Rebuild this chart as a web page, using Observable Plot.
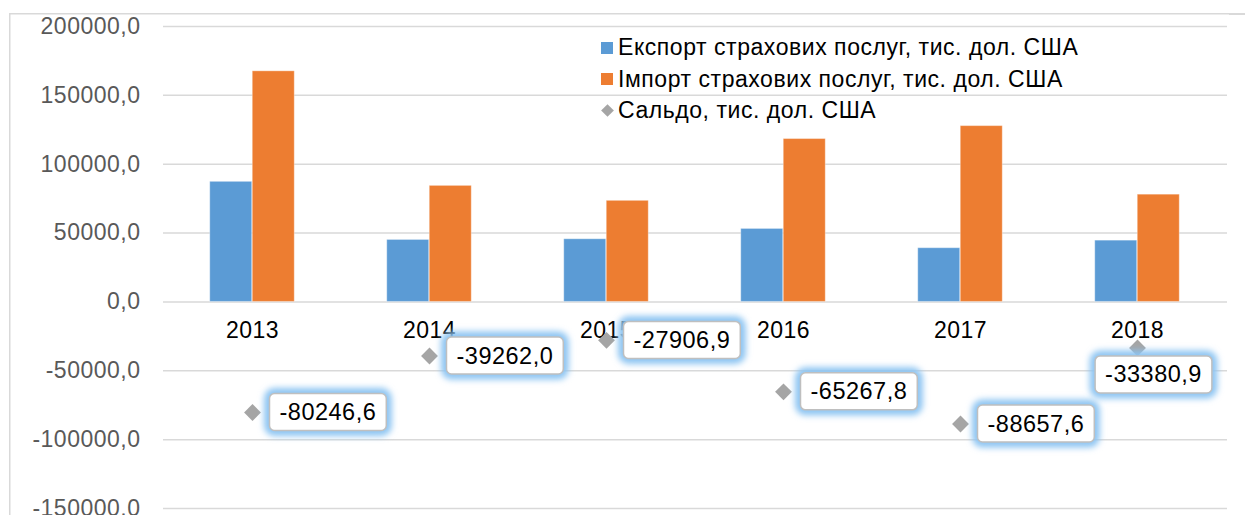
<!DOCTYPE html>
<html><head><meta charset="utf-8">
<script src="https://cdn.jsdelivr.net/npm/d3@7"></script>
<script src="https://cdn.jsdelivr.net/npm/@observablehq/plot@0.6"></script>
<style>
html,body{margin:0;padding:0;background:#fff;overflow:hidden;width:1245px;height:515px}
#wrap{position:relative;width:1245px;height:515px;overflow:hidden;font-family:"Liberation Sans",Arial,sans-serif}
#chart{position:absolute;left:0;top:0;width:1245px;height:515px}
#chart svg{display:block}
#legend{position:absolute;left:601px;top:32px;font-size:23px;letter-spacing:0.55px;color:#000}
.row{height:31.5px;display:flex;align-items:center;white-space:nowrap}
.sw{width:12px;height:12px;margin-right:5px;flex:none}
.dm{width:9px;height:9px;margin:0 6px 0 2px;transform:rotate(45deg);background:#a5a5a5;flex:none}
svg text{letter-spacing:0.5px}
#edge{position:absolute;left:1229px;top:0;width:20px;height:515px;background:#fff}
#edge div{position:absolute;left:0;top:13px;width:20px;height:1.5px;background:#d9d9d9}
</style></head><body><div id="wrap"><div id="chart"></div><div id="legend"></div><div id="edge"><div></div></div></div>
<script>
const years = ["2013", "2014", "2015", "2016", "2017", "2018"];
const exportValues = [87200, 45000, 45500, 53000, 39000, 44500];
const importValues = [167446.6, 84262.0, 73406.9, 118267.8, 127657.6, 77880.9];
const saldoValues = [-80246.6, -39262.0, -27906.9, -65267.8, -88657.6, -33380.9];
const seriesNames = ["Експорт страхових послуг, тис. дол. США", "Імпорт страхових послуг, тис. дол. США", "Сальдо, тис. дол. США"];
const seriesColors = ["#5b9bd5", "#ed7d31", "#a5a5a5"];
const yTicks = [-150000, -100000, -50000, 0, 50000, 100000, 150000, 200000];

const fmt = d => d.toFixed(1).replace(".", ",");
const exportData = years.map((y, i) => ({year: y, value: exportValues[i]}));
const importData = years.map((y, i) => ({year: y, value: importValues[i]}));
const saldoData = years.map((y, i) => ({year: y, value: saldoValues[i]}));

const plot = Plot.plot({
  width: 1245, height: 515,
  marginTop: 26, marginBottom: 7, marginLeft: 163, marginRight: 18,
  style: {fontFamily: "Liberation Sans, Arial, sans-serif", fontSize: "23px", background: "transparent", color: "#595959", overflow: "visible"},
  x: {domain: years, paddingInner: 0.76, paddingOuter: 0.38, axis: null},
  y: {domain: [-150000, 200000], ticks: yTicks, tickFormat: fmt, tickSize: 0, tickPadding: 23, label: null},
  marks: [
    Plot.ruleY(yTicks, {stroke: "#d9d9d9", strokeWidth: 1.5}),
    Plot.barY(exportData, {x: "year", y: "value", fill: seriesColors[0], dx: -21.25, stroke: "#fff", strokeOpacity: 0.35, strokeWidth: 1}),
    Plot.barY(importData, {x: "year", y: "value", fill: seriesColors[1], dx: 21.25, stroke: "#fff", strokeOpacity: 0.35, strokeWidth: 1}),
    Plot.text(years, {x: d => d, y: () => 0, dy: 29, fill: "#000", fontSize: 23}),
    Plot.dot(saldoData, {x: "year", y: "value", symbol: "diamond2", r: 7.6, fill: seriesColors[2]}),
    Plot.text(saldoData.filter(d => d.year !== "2018"), {x: "year", y: "value", text: d => fmt(d.value), textAnchor: "start", dx: 27, fill: "#000", fontSize: 23.5, ariaDescription: "saldo-labels"}),
    Plot.text(saldoData.filter(d => d.year === "2018"), {x: "year", y: "value", text: d => fmt(d.value), textAnchor: "middle", dx: 16, dy: 27, fill: "#000", fontSize: 23.5, ariaDescription: "saldo-labels"})
  ]
});
document.getElementById("chart").appendChild(plot);

const ns = "http://www.w3.org/2000/svg";
// outer chart-area border (left and top edges visible in the crop)
const border = document.createElementNS(ns, "path");
border.setAttribute("d", "M9.75,520V13.75H1260");
border.setAttribute("fill", "none");
border.setAttribute("stroke", "#d9d9d9");
border.setAttribute("stroke-width", 1.5);
plot.insertBefore(border, plot.firstChild);

// label boxes with glow, sized from each label's text
const defs = document.createElementNS(ns, "defs");
defs.innerHTML = '<filter id="glow" x="-30%" y="-50%" width="160%" height="200%"><feGaussianBlur stdDeviation="3.2"/></filter>';
plot.insertBefore(defs, plot.firstChild);
plot.querySelectorAll('g[aria-description="saldo-labels"] text').forEach(t => {
  const b = t.getBBox();
  const px = 10, py = 5.5;
  const tr = t.getAttribute("transform");
  const glow = document.createElementNS(ns, "rect");
  const box = document.createElementNS(ns, "rect");
  for (const r of [glow, box]) {
    r.setAttribute("x", b.x - px); r.setAttribute("y", b.y - py);
    r.setAttribute("width", b.width + 2 * px); r.setAttribute("height", b.height + 2 * py);
    r.setAttribute("rx", 5);
    if (tr) r.setAttribute("transform", tr);
  }
  glow.setAttribute("fill", "none"); glow.setAttribute("stroke", "#8cc4f2");
  glow.setAttribute("stroke-width", 11); glow.setAttribute("filter", "url(#glow)");
  box.setAttribute("fill", "#fff"); box.setAttribute("stroke", "#bfbfbf"); box.setAttribute("stroke-width", 1.5);
  t.parentNode.insertBefore(glow, t);
  t.parentNode.insertBefore(box, t);
});

// legend
const legend = document.getElementById("legend");
seriesNames.forEach((name, i) => {
  const row = document.createElement("div"); row.className = "row";
  const sw = document.createElement("span");
  sw.className = i < 2 ? "sw" : "dm";
  sw.style.background = seriesColors[i];
  const label = document.createElement("span"); label.textContent = name;
  row.appendChild(sw); row.appendChild(label); legend.appendChild(row);
});
</script></body></html>
